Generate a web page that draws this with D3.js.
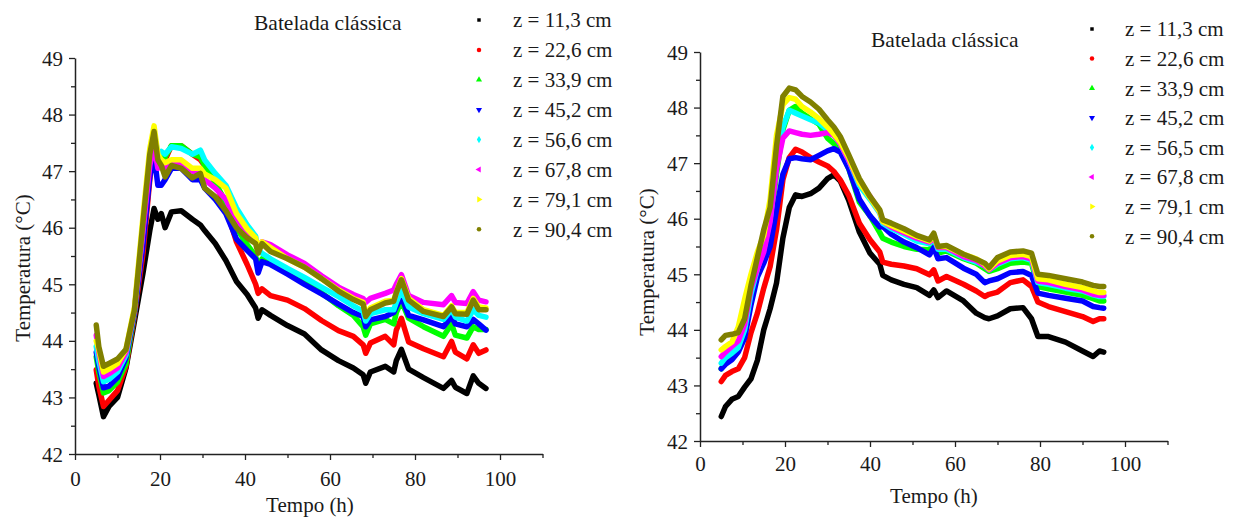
<!DOCTYPE html>
<html>
<head>
<meta charset="utf-8">
<script src="https://cdn.jsdelivr.net/npm/d3@7/dist/d3.min.js"></script>
<style>
  html, body { margin: 0; padding: 0; background: #fff; }
  svg { display: block; }
  svg text { font-family: "Liberation Serif", "Times New Roman", serif !important; }
</style>
</head>
<body>
<svg id="chart" width="1245" height="520"></svg>
<script>
// ---------- DATA ----------
const titleText = "Batelada clássica";
const xLabel = "Tempo (h)";
const yLabel = "Temperatura (°C)";
const xTicks = [0, 20, 40, 60, 80, 100];
const yTicks = [42, 43, 44, 45, 46, 47, 48, 49];

const legendLeft = ["z = 11,3 cm", "z = 22,6 cm", "z = 33,9 cm", "z = 45,2 cm", "z = 56,6 cm", "z = 67,8 cm", "z = 79,1 cm", "z = 90,4 cm"];
const legendRight = ["z = 11,3 cm", "z = 22,6 cm", "z = 33,9 cm", "z = 45,2 cm", "z = 56,5 cm", "z = 67,8 cm", "z = 79,1 cm", "z = 90,4 cm"];
const colors = ["#000000", "#ff0000", "#00ff00", "#0000ff", "#00ffff", "#ff00ff", "#ffff00", "#808000"];

// Left chart time points (h)
const timeL = [5, 5.6, 6.7, 8, 10, 12, 14, 16, 17.6, 18.6, 19.5, 20.3, 21.2, 22.7, 25, 27.6, 29.5, 30.5, 33, 35.5, 38, 40.5, 42.5, 43.1, 44, 46, 50, 54, 58, 62, 65.5, 67.8, 68.4, 69.5, 73, 75, 75.6, 76.8, 78.5, 82, 86.7, 88.6, 89.5, 92.2, 93.7, 95, 96.7];
const z113L = [43.25, 43.05, 42.66, 42.84, 43.0, 43.52, 44.35, 45.2, 45.95, 46.34, 46.15, 46.25, 46.0, 46.28, 46.3, 46.15, 46.05, 45.95, 45.72, 45.42, 45.05, 44.82, 44.58, 44.4, 44.55, 44.45, 44.27, 44.12, 43.84, 43.65, 43.52, 43.4, 43.25, 43.45, 43.55, 43.45, 43.65, 43.85, 43.5, 43.35, 43.16, 43.3, 43.18, 43.07, 43.38, 43.25, 43.16];
const z226L = [43.49, 43.2, 42.84, 42.95, 43.12, 43.55, 44.45, 45.55, 46.85, 47.5, 47.1, 47.3, 47.2, 47.45, 47.45, 47.3, 47.2, 47.1, 46.8, 46.35, 45.75, 45.35, 45.0, 44.84, 44.92, 44.8, 44.72, 44.57, 44.36, 44.18, 44.08, 43.93, 43.78, 43.96, 44.08, 43.93, 44.19, 44.4, 43.98, 43.86, 43.72, 43.99, 43.8, 43.68, 43.93, 43.78, 43.84];
const z339L = [43.72, 43.45, 43.08, 43.12, 43.27, 43.6, 44.5, 45.8, 47.1, 47.65, 47.2, 47.3, 47.25, 47.45, 47.45, 47.3, 47.25, 47.1, 46.8, 46.45, 46.0, 45.7, 45.5, 45.3, 45.45, 45.4, 45.2, 45.05, 44.85, 44.62, 44.45, 44.25, 44.1, 44.3, 44.38, 44.3, 44.5, 44.7, 44.4, 44.25, 44.08, 44.3, 44.1, 44.05, 44.25, 44.2, 44.2];
const z452L = [43.8, 43.55, 43.17, 43.2, 43.35, 43.7, 44.5, 45.7, 46.9, 47.29, 46.75, 46.75, 46.85, 47.05, 47.05, 46.85, 46.85, 46.7, 46.5, 46.25, 45.8, 45.6, 45.45, 45.2, 45.4, 45.35, 45.18, 45.0, 44.83, 44.65, 44.5, 44.43, 44.25, 44.37, 44.43, 44.5, 44.6, 44.78, 44.45, 44.37, 44.25, 44.43, 44.3, 44.25, 44.38, 44.3, 44.19];
const z566L = [43.9, 43.65, 43.28, 43.32, 43.45, 43.75, 44.55, 46.0, 47.25, 47.7, 47.3, 47.35, 47.3, 47.43, 47.4, 47.3, 47.37, 47.2, 46.96, 46.75, 46.35, 46.05, 45.85, 45.6, 45.55, 45.45, 45.28, 45.12, 44.95, 44.78, 44.62, 44.52, 44.35, 44.48, 44.55, 44.55, 44.68, 44.9, 44.6, 44.48, 44.38, 44.55, 44.42, 44.35, 44.55, 44.45, 44.42];
const z678L = [44.1, 43.8, 43.37, 43.42, 43.52, 43.8, 44.55, 45.95, 47.1, 47.45, 47.05, 47.1, 47.05, 47.15, 47.15, 47.0, 46.96, 46.85, 46.7, 46.5, 46.1, 45.9, 45.78, 45.62, 45.75, 45.7, 45.52, 45.37, 45.15, 44.95, 44.82, 44.75, 44.68, 44.75, 44.84, 44.9, 45.0, 45.17, 44.8, 44.68, 44.64, 44.8, 44.68, 44.66, 44.87, 44.72, 44.69];
const z791L = [44.0, 43.85, 43.45, 43.5, 43.6, 43.85, 44.6, 46.2, 47.4, 47.8, 47.3, 47.2, 47.15, 47.2, 47.2, 47.05, 47.05, 46.95, 46.85, 46.7, 46.25, 45.98, 45.82, 45.62, 45.75, 45.65, 45.45, 45.3, 45.1, 44.9, 44.75, 44.68, 44.45, 44.58, 44.7, 44.72, 44.85, 45.1, 44.75, 44.55, 44.45, 44.62, 44.5, 44.5, 44.75, 44.6, 44.58];
const z904L = [44.28, 43.9, 43.55, 43.6, 43.68, 43.85, 44.55, 46.1, 47.3, 47.7, 47.2, 47.1, 46.9, 47.1, 47.05, 46.88, 46.96, 46.7, 46.55, 46.3, 46.0, 45.82, 45.72, 45.55, 45.72, 45.58, 45.45, 45.3, 45.1, 44.88, 44.73, 44.65, 44.43, 44.55, 44.67, 44.7, 44.85, 45.08, 44.72, 44.52, 44.43, 44.6, 44.48, 44.47, 44.72, 44.55, 44.55];

// Right chart time points (h)
const timeR = [5, 6, 7.5, 9, 10.5, 12, 13.5, 15, 16.5, 18, 19.5, 21, 22.5, 24, 26, 28, 30, 31.5, 33, 35, 37.5, 40, 42.3, 43, 45, 48, 51, 54, 55, 56, 58, 62, 65, 67, 68, 70, 73, 76, 78, 79.5, 82, 86, 90, 92.5, 94, 95];
const z113R = [42.44, 42.62, 42.75, 42.8, 42.97, 43.12, 43.45, 44.0, 44.38, 44.84, 45.65, 46.2, 46.43, 46.4, 46.45, 46.55, 46.72, 46.79, 46.68, 46.33, 45.76, 45.38, 45.18, 44.98, 44.9, 44.82, 44.76, 44.62, 44.72, 44.58, 44.7, 44.52, 44.3, 44.22, 44.2, 44.25, 44.38, 44.4, 44.2, 43.88, 43.88, 43.78, 43.62, 43.52, 43.62, 43.6];
const z226R = [43.07, 43.18, 43.25, 43.3, 43.5, 43.95, 44.3, 44.75, 45.14, 45.8, 46.7, 47.1, 47.25, 47.2, 47.1, 47.02, 46.95, 46.85, 46.7, 46.42, 45.92, 45.62, 45.4, 45.22, 45.18, 45.15, 45.1, 44.99, 45.08, 44.88, 44.96, 44.82, 44.7, 44.6, 44.64, 44.68, 44.85, 44.9, 44.78, 44.5, 44.42, 44.33, 44.24, 44.15, 44.2, 44.2];
const z339R = [43.3, 43.42, 43.5, 43.65, 43.95, 44.55, 45.05, 45.4, 45.9, 46.8, 47.6, 47.95, 48.02, 47.9, 47.8, 47.7, 47.45, 47.35, 47.25, 46.9, 46.3, 46.05, 45.75, 45.65, 45.58, 45.5, 45.45, 45.44, 45.55, 45.38, 45.42, 45.28, 45.2, 45.1, 45.05, 45.1, 45.2, 45.22, 45.2, 44.78, 44.74, 44.68, 44.62, 44.56, 44.52, 44.52];
const z452R = [43.3, 43.38, 43.46, 43.6, 43.85, 44.45, 44.95, 45.2, 45.5, 46.16, 46.8, 47.08, 47.1, 47.08, 47.06, 47.14, 47.22, 47.26, 47.2, 46.9, 46.35, 46.05, 45.85, 45.86, 45.72, 45.58, 45.48, 45.35, 45.48, 45.28, 45.3, 45.11, 45.0, 44.85, 44.88, 44.92, 45.03, 45.05, 44.98, 44.66, 44.62, 44.57, 44.52, 44.42, 44.4, 44.39];
const z565R = [43.4, 43.5, 43.58, 43.68, 44.0, 44.65, 45.1, 45.45, 46.0, 46.95, 47.65, 47.95, 47.9, 47.85, 47.78, 47.72, 47.6, 47.5, 47.35, 47.05, 46.6, 46.35, 46.1, 45.92, 45.82, 45.72, 45.6, 45.55, 45.65, 45.45, 45.45, 45.3, 45.22, 45.15, 45.08, 45.18, 45.28, 45.3, 45.25, 44.85, 44.82, 44.75, 44.7, 44.63, 44.6, 44.6];
const z678R = [43.52, 43.6, 43.7, 43.8, 44.1, 44.75, 45.1, 45.4, 45.95, 46.9, 47.45, 47.58, 47.55, 47.52, 47.5, 47.52, 47.55, 47.5, 47.35, 47.05, 46.65, 46.4, 46.12, 45.95, 45.85, 45.75, 45.65, 45.58, 45.68, 45.48, 45.48, 45.32, 45.25, 45.15, 45.08, 45.2, 45.3, 45.32, 45.28, 44.88, 44.85, 44.78, 44.72, 44.64, 44.62, 44.62];
const z791R = [43.64, 43.7, 43.78, 44.05, 44.55, 45.0, 45.4, 45.7, 46.35, 47.5, 48.05, 48.18, 48.15, 48.02, 47.92, 47.8, 47.65, 47.52, 47.38, 47.1, 46.65, 46.38, 46.12, 45.95, 45.88, 45.78, 45.68, 45.6, 45.7, 45.5, 45.5, 45.36, 45.28, 45.18, 45.1, 45.24, 45.34, 45.36, 45.32, 44.92, 44.9, 44.82, 44.76, 44.7, 44.67, 44.67];
const z904R = [43.82, 43.9, 43.92, 43.95, 44.2, 44.8, 45.3, 45.8, 46.2, 47.3, 48.2, 48.35, 48.32, 48.2, 48.1, 47.97, 47.78, 47.65, 47.48, 47.15, 46.72, 46.4, 46.16, 45.98, 45.92, 45.82, 45.7, 45.62, 45.74, 45.5, 45.52, 45.36, 45.27, 45.2, 45.12, 45.3, 45.4, 45.42, 45.38, 45.0, 44.98, 44.92, 44.86, 44.8, 44.78, 44.78];

const seriesL = [z113L, z226L, z339L, z452L, z566L, z678L, z791L, z904L];
const seriesR = [z113R, z226R, z339R, z452R, z565R, z678R, z791R, z904R];
const symbols = [d3.symbolSquare, d3.symbolCircle, d3.symbolTriangle, "down", d3.symbolDiamond, "left", "right", d3.symbolCircle];

// ---------- DRAW ----------
const svg = d3.select("#chart");
const textColor = "#1a1a1a";
const serif = "'Liberation Serif', 'Times New Roman', serif";

function drawPanel(cfg) {
  const x = d3.scaleLinear().domain([0, 110]).range([cfg.x0, cfg.x1]);
  const y = d3.scaleLinear().domain([42, 49]).range([cfg.y0, cfg.y1]);
  const g = svg.append("g").style("font-family", serif);

  const xMinor = d3.range(10, 111, 20);
  const yMinor = d3.range(42.5, 49, 1);
  const xAxis = d3.axisBottom(x).tickValues(xTicks).tickSize(6).tickSizeOuter(0).tickFormat(d3.format("d"));
  const yAxis = d3.axisLeft(y).tickValues(yTicks).tickSize(6).tickSizeOuter(0).tickFormat(d3.format("d"));

  const gx = g.append("g").attr("transform", `translate(0,${cfg.y0})`).call(xAxis);
  const gy = g.append("g").attr("transform", `translate(${cfg.x0},0)`).call(yAxis);
  g.append("g").attr("transform", `translate(0,${cfg.y0})`)
    .call(d3.axisBottom(x).tickValues(xMinor).tickSize(4).tickSizeOuter(0).tickFormat(""))
    .select(".domain").remove();
  g.append("g").attr("transform", `translate(${cfg.x0},0)`)
    .call(d3.axisLeft(y).tickValues(yMinor).tickSize(4).tickSizeOuter(0).tickFormat(""))
    .select(".domain").remove();

  g.selectAll(".domain").attr("stroke", "#222").attr("stroke-width", 1.5);
  g.selectAll(".tick line").attr("stroke", "#222").attr("stroke-width", 1.3);
  g.selectAll("g").attr("font-family", null);
  gx.selectAll(".tick text").attr("font-size", 21).attr("fill", textColor)
    .style("font-family", serif).attr("dy", "0").attr("y", cfg.xLabelDy);
  gy.selectAll(".tick text").attr("font-size", 21).attr("fill", textColor)
    .style("font-family", serif).attr("x", -12).attr("dy", "0.34em");

  // series lines
  const line = d3.line().x(d => x(d[0])).y(d => y(d[1])).curve(d3.curveLinear);
  cfg.series.forEach((vals, i) => {
    const pts = cfg.time.map((t, k) => [t, vals[k]]);
    g.append("path").datum(pts)
      .attr("d", line)
      .attr("fill", "none")
      .attr("stroke", colors[i])
      .attr("stroke-width", 5.5)
      .attr("stroke-linejoin", "round")
      .attr("stroke-linecap", "round");
  });

  // titles
  g.append("text").attr("x", cfg.titleX).attr("y", cfg.titleY)
    .attr("font-size", 21.5).attr("fill", textColor).text(titleText);
  g.append("text").attr("x", cfg.xTitleX).attr("y", cfg.xTitleY).attr("text-anchor", "middle")
    .attr("font-size", 21).attr("fill", textColor).text(xLabel);
  g.append("text").attr("transform", `translate(${cfg.yTitleX},${cfg.yTitleY}) rotate(-90)`)
    .attr("text-anchor", "middle").attr("font-size", 21).attr("fill", textColor).text(yLabel);

  // legend
  cfg.legend.forEach((lab, i) => {
    const cy = cfg.legY + i * cfg.legStep;
    let sym = symbols[i];
    let rot = 0;
    if (sym === "down") { sym = d3.symbolTriangle; rot = 180; }
    if (sym === "left") { sym = d3.symbolTriangle; rot = -90; }
    if (sym === "right") { sym = d3.symbolTriangle; rot = 90; }
    g.append("path")
      .attr("d", d3.symbol().type(sym).size(i === 0 ? 12 : 16)())
      .attr("transform", `translate(${cfg.legMarkX},${cy}) rotate(${rot})`)
      .attr("fill", colors[i]);
    g.append("text").attr("x", cfg.legTextX).attr("y", cy).attr("dy", "0.35em")
      .attr("font-size", 21).attr("fill", textColor).text(lab);
  });
}

drawPanel({
  x0: 75, x1: 542.5, y0: 454, y1: 58,
  time: timeL, series: seriesL, legend: legendLeft,
  xLabelDy: 32,
  titleX: 254, titleY: 30,
  xTitleX: 310, xTitleY: 512,
  yTitleX: 30, yTitleY: 268,
  legMarkX: 479, legTextX: 513, legY: 20, legStep: 29.9
});

drawPanel({
  x0: 700, x1: 1167.5, y0: 441, y1: 52,
  time: timeR, series: seriesR, legend: legendRight,
  xLabelDy: 30,
  titleX: 871, titleY: 47,
  xTitleX: 934, xTitleY: 503,
  yTitleX: 654, yTitleY: 262,
  legMarkX: 1092, legTextX: 1125, legY: 29, legStep: 29.6
});
</script>
</body>
</html>
